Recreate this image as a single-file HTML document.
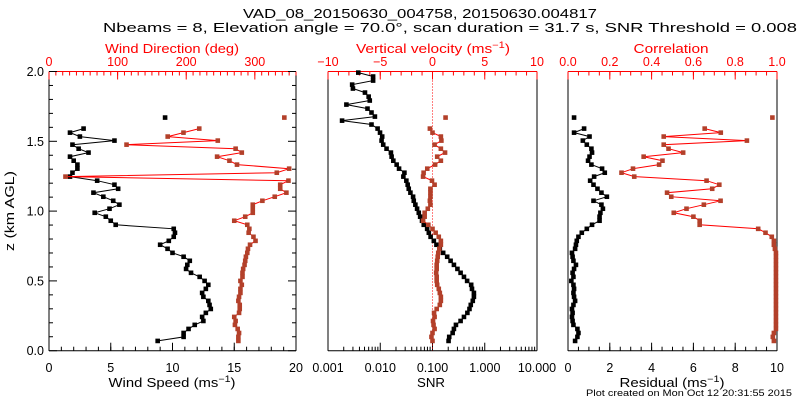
<!DOCTYPE html>
<html><head><meta charset="utf-8"><style>
html,body{margin:0;padding:0;background:#fff;}
svg{display:block;font-family:"Liberation Sans",sans-serif;}
</style></head><body>
<svg id="c" width="800" height="400" viewBox="0 0 800 400" xmlns="http://www.w3.org/2000/svg">
<text x="420" y="18" font-size="13" text-anchor="middle" textLength="354" lengthAdjust="spacingAndGlyphs">VAD_08_20150630_004758, 20150630.004817</text>
<text x="450" y="32" font-size="13" text-anchor="middle" textLength="694" lengthAdjust="spacingAndGlyphs">Nbeams = 8, Elevation angle = 70.0°, scan duration = 31.7 s, SNR Threshold = 0.008</text>
<text x="689" y="396" font-size="9" text-anchor="middle" textLength="206" lengthAdjust="spacingAndGlyphs">Plot created on Mon Oct 12 20:31:55 2015</text>
<text transform="translate(14,211) rotate(-90)" font-size="12.5" text-anchor="middle" textLength="80" lengthAdjust="spacingAndGlyphs">z (km AGL)</text>
<g id="layer"></g>
</svg>
<script>
// heights (km) for wind / velocity / residual series; last is isolated point
const heights = [0.070,0.099,0.127,0.156,0.185,0.213,0.242,0.271,0.299,0.328,0.357,0.386,0.414,0.443,0.472,0.500,0.529,0.558,0.586,0.615,0.644,0.673,0.701,0.730,0.759,0.787,0.816,0.845,0.873,0.902,0.931,0.960,0.988,1.017,1.046,1.074,1.103,1.132,1.160,1.189,1.218,1.247,1.275,1.304,1.333,1.361,1.390,1.419,1.447,1.476,1.505,1.534,1.562,1.591,1.670];
const windSpeed = [8.8,10.9,10.9,11.3,11.8,12.5,12.4,12.7,13.1,13.0,12.9,12.5,12.4,12.7,12.9,12.6,12.2,11.5,11.1,11.2,11.4,10.9,10.0,9.6,9.0,9.7,10.1,10.2,10.1,5.4,5.0,4.6,3.7,4.9,5.7,5.2,4.4,3.6,5.6,5.3,3.9,1.7,1.9,2.3,2.3,2.0,1.7,3.2,2.4,1.9,5.3,2.5,1.7,2.8,9.4];
const windDir = [276,276,277,275,271,272,270,277,278,278,276,277,279,279,281,279,282,282,283,285,286,287,289,290,293,301,298,291,292,289,270,286,297,297,297,311,329,346,337,337,349,24,332,350,274,263,245,281,272,113,246,173,196,219,343];
const vertVel = [0,-0.1,0,0.2,0.1,0.05,0.2,0.15,0.4,0.7,0.8,0.8,0.7,0.6,0.45,0.4,0.4,0.35,0.4,0.4,0.45,0.5,0.55,0.65,0.8,0.8,0.6,0.3,0,-0.4,-0.9,-0.75,-0.75,-0.45,-0.2,-0.25,-0.2,-0.2,-0.2,0.2,-0.05,-0.9,-0.85,-0.5,0.25,0.8,0.45,1.2,0.8,0.2,0.85,0.8,0,-0.25,1.25];
const residual = [0.34,0.45,0.5,0.45,0.26,0.22,0.19,0.22,0.19,0.26,0.34,0.29,0.26,0.29,0.26,0.16,0.26,0.22,0.29,0.38,0.26,0.22,0.19,0.34,0.38,0.42,0.5,0.66,0.9,1.15,1.51,1.51,1.55,1.67,1.6,1.22,1.86,1.6,1.41,1.22,1.06,1.25,1.76,1.63,1.12,0.96,1.03,1.15,1.12,0.9,0.71,1.03,0.29,0.77,0.29];
const correlation = [0.985,0.98,0.985,0.995,0.995,0.995,0.995,0.995,0.995,0.995,0.995,0.995,0.995,0.995,0.995,0.995,0.995,0.995,0.995,0.995,0.995,0.995,0.995,0.99,0.985,0.985,0.975,0.945,0.91,0.63,0.63,0.6,0.506,0.567,0.65,0.73,0.494,0.474,0.69,0.724,0.663,0.317,0.256,0.311,0.436,0.452,0.362,0.551,0.481,0.458,0.856,0.458,0.731,0.654,0.978];
// SNR heights and values
const snrHeights = [0.070,0.099,0.127,0.156,0.185,0.213,0.242,0.271,0.299,0.328,0.357,0.386,0.414,0.443,0.472,0.500,0.529,0.558,0.586,0.615,0.644,0.673,0.701,0.730,0.759,0.787,0.816,0.845,0.873,0.902,0.931,0.960,0.988,1.017,1.046,1.074,1.103,1.132,1.160,1.189,1.218,1.247,1.275,1.304,1.333,1.361,1.390,1.419,1.447,1.476,1.505,1.534,1.562,1.591,1.620,1.648,1.677,1.706,1.734,1.763,1.792,1.820,1.849,1.878,1.906,1.935,1.964,1.992];
const snr = [0.203,0.209,0.243,0.257,0.281,0.345,0.40,0.465,0.51,0.54,0.59,0.62,0.62,0.57,0.55,0.46,0.40,0.345,0.30,0.257,0.222,0.191,0.160,0.138,0.119,0.106,0.092,0.085,0.079,0.068,0.063,0.058,0.0546,0.0507,0.047,0.0438,0.0425,0.0378,0.0351,0.0335,0.0316,0.0277,0.029,0.0229,0.0206,0.0178,0.0165,0.016,0.0132,0.0114,0.0106,0.0109,0.0099,0.0089,0.0068,0.00186,0.0079,0.0068,0.0057,0.00225,0.0063,0.006,0.0051,0.003,0.0029,0.0073,0.0073,0.0038];
const zTicks = ["0.0","0.5","1.0","1.5","2.0"];
const wsTicks = ["0","5","10","15","20"];
const wdTicks = ["0","100","200","300"];
const vvTicks = ["\u221210","\u22125","0","5","10"];
const snrTicks = ["0.001","0.010","0.100","1.000","10.000"];
const resTicks = ["0","2","4","6","8","10"];
const corTicks = ["0.0","0.2","0.4","0.6","0.8","1.0"];

const NS="http://www.w3.org/2000/svg";
const layer=document.getElementById('layer');
const TOP=71.5, BOT=350.7;
const yz = z => BOT - z/2*(BOT-TOP);
function el(tag, attrs, parent){const e=document.createElementNS(NS,tag);for(const k in attrs)e.setAttribute(k,attrs[k]);(parent||layer).appendChild(e);return e;}
const P1={l:49,r:296}, P2={l:328,r:537}, P3={l:568,r:777};
const lin=(p,a,b)=>v=>p.l+(v-a)/(b-a)*(p.r-p.l);
const xWS=lin(P1,0,20), xWD=lin(P1,0,360), xVV=lin(P2,-10,10), xRes=lin(P3,0,10), xCor=lin(P3,0,1);
const xSNR=v=>P2.l+(Math.log10(v)+3)/4*(P2.r-P2.l);
const RED="#ff0000", MRK="#b3402a";

function ticksX(xf, vals, y, dir, len, color, name){
  vals.forEach(v=>{const t=el('line',{x1:xf(v),x2:xf(v),y1:y,y2:y+dir*len,stroke:color,'stroke-width':1});
  
  });
}
function range(a,b,s){const o=[];for(let v=a;v<=b+1e-9;v+=s)o.push(+v.toFixed(6));return o;}
function label(x,y,txt,color,name,anchor,tl){const t=el('text',{x:x,y:y,'font-size':12.5,fill:color,'text-anchor':anchor||'middle'});t.textContent=txt;
  if(tl){t.setAttribute('textLength',tl);t.setAttribute('lengthAdjust','spacingAndGlyphs');}
  
  return t;}
function titleSup(x,y,base,sup,tail,color,name,tl){
  const t=el('text',{x:x,y:y,'font-size':12.5,fill:color,'text-anchor':'middle',textLength:tl,lengthAdjust:'spacingAndGlyphs'});
  
  
  const a=el('tspan',{},t);a.textContent=base;
  if(sup){const s=el('tspan',{dy:-5,'font-size':9},t);s.textContent=sup;const c=el('tspan',{dy:5},t);c.textContent=tail;}
  return t;}

function frame(p,name){
  const g=el('g',{});
  
  
  el('line',{x1:p.l,x2:p.l,y1:TOP,y2:BOT,stroke:'#000'},g);
  el('line',{x1:p.r,x2:p.r,y1:TOP,y2:BOT,stroke:'#000'},g);
  el('line',{x1:p.l,x2:p.r,y1:BOT,y2:BOT,stroke:'#000'},g);
  el('line',{x1:p.l,x2:p.r,y1:TOP,y2:TOP,stroke:RED},g);
}
frame(P1,'panel-wind-frame');frame(P2,'panel-snr-frame');frame(P3,'panel-residual-frame');

// panel 1 axes
ticksX(xWS,range(0,20,1),BOT,-1,4,'#000','wind-speed-minor-tick');
ticksX(xWS,range(0,20,5),BOT,-1,8,'#000','wind-speed-major-tick');
ticksX(xWD,range(0,360,10),TOP,1,4,RED,'wind-dir-minor-tick');
ticksX(xWD,range(0,300,100),TOP,1,8,RED,'wind-dir-major-tick');
wsTicks.forEach(s=>label(xWS(+s),372,s,'#000','wind-speed-tick-label'));
wdTicks.forEach(s=>label(xWD(+s),66,s,RED,'wind-dir-tick-label'));
range(0,2,0.1).forEach(z=>{const major=Math.abs(z*2-Math.round(z*2))<1e-6;const L=major?8:4;
  const a=el('line',{x1:P1.l,x2:P1.l+L,y1:yz(z),y2:yz(z),stroke:'#000'});
  
  
  const b=el('line',{x1:P1.r,x2:P1.r-L,y1:yz(z),y2:yz(z),stroke:'#000'});
  
  });
zTicks.forEach(s=>label(44,yz(+s)+4.5,s,'#000','z-tick-label','end'));
titleSup(172,387,'Wind Speed (ms','\u22121',')','#000','wind-speed-axis-title',127);
label(172,53,'Wind Direction (deg)',RED,'wind-dir-axis-title','middle',134);

// panel 2 axes
for(let d=-3;d<=0;d++){for(let m=1;m<=9;m++){const v=m*Math.pow(10,d);const L=m==1?8:4;
  const t=el('line',{x1:xSNR(v),x2:xSNR(v),y1:BOT,y2:BOT-L,stroke:'#000'});
  
  }}
snrTicks.forEach(s=>label(xSNR(+s),372,s,'#000','snr-tick-label'));
ticksX(xVV,range(-10,10,1),TOP,1,4,RED,'vert-vel-minor-tick');
ticksX(xVV,range(-10,10,5),TOP,1,8,RED,'vert-vel-major-tick');
vvTicks.forEach(s=>label(xVV(+s.replace('\u2212','-')),66,s,RED,'vert-vel-tick-label'));
label(431,387,'SNR','#000','snr-axis-title','middle',28);
titleSup(433,53,'Vertical velocity (ms','\u22121',')',RED,'vert-vel-axis-title',154);
const zl=el('line',{x1:xVV(0),x2:xVV(0),y1:TOP,y2:BOT,stroke:RED,'stroke-dasharray':'1,2'});



// panel 3 axes
ticksX(xRes,range(0,10,0.5),BOT,-1,4,'#000','residual-minor-tick');
ticksX(xRes,range(0,10,2),BOT,-1,8,'#000','residual-major-tick');
resTicks.forEach(s=>label(xRes(+s),372,s,'#000','residual-tick-label'));
ticksX(xCor,range(0,1,0.05),TOP,1,4,RED,'correlation-minor-tick');
ticksX(xCor,range(0,1,0.2),TOP,1,8,RED,'correlation-major-tick');
corTicks.forEach(s=>label(xCor(+s),66,s,RED,'correlation-tick-label'));
titleSup(672,387,'Residual (ms','\u22121',')','#000','residual-axis-title',105);
label(671,53,'Correlation',RED,'correlation-axis-title','middle',75);

function series(xf, vals, hs, lineColor, mColor, name, gap){
  const g=el('g',{});
  
  
  let d='';
  for(let i=0;i<vals.length;i++){
    const x=xf(vals[i]).toFixed(1), y=yz(hs[i]).toFixed(1);
    const cont=i>0 && (hs[i]-hs[i-1])<gap;
    d+=(cont?'L':'M')+x+','+y;
  }
  el('path',{d:d,fill:'none',stroke:lineColor,'stroke-width':1},g);
  for(let i=0;i<vals.length;i++){
    const m=el('rect',{x:xf(vals[i])-2.3,y:yz(hs[i])-2.3,width:4.6,height:4.6,fill:mColor},g);
    
    
  }
}
series(xWS,windSpeed,heights,'#000','#000','wind-speed-series',0.05);
series(xWD,windDir,heights,RED,MRK,'wind-direction-series',0.05);
series(xSNR,snr,snrHeights,'#000','#000','snr-series',0.05);
series(xVV,vertVel,heights,RED,MRK,'vertical-velocity-series',0.05);
series(xRes,residual,heights,'#000','#000','residual-series',0.05);
series(xCor,correlation,heights,RED,MRK,'correlation-series',0.05);
</script>
</body></html>
